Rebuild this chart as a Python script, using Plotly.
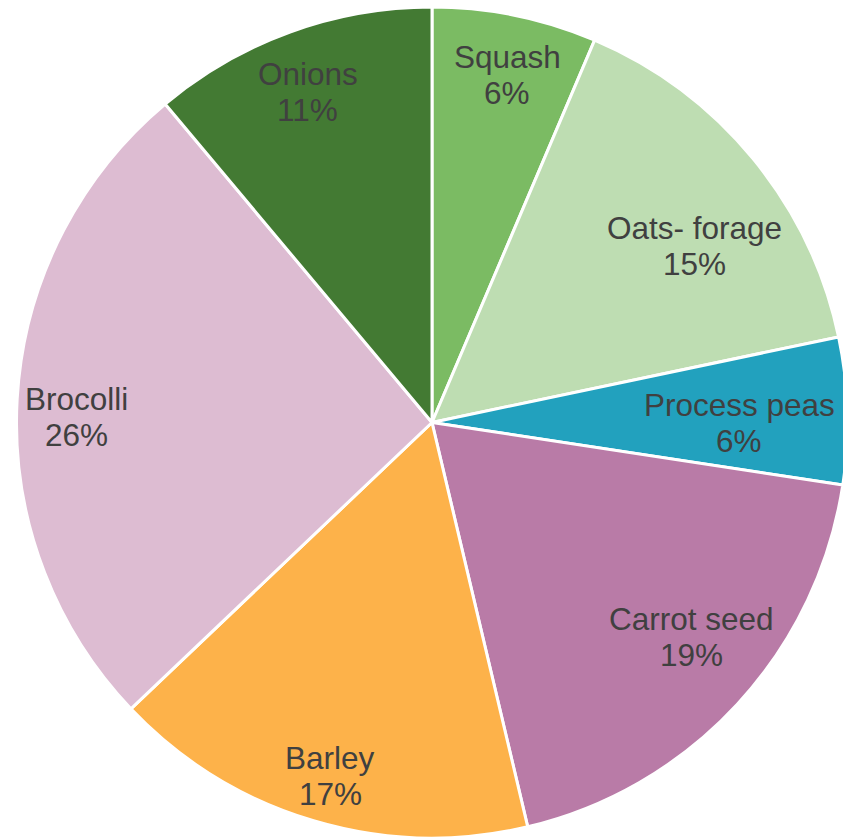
import math
import plotly.graph_objects as go

labels = ["Squash", "Oats- forage", "Process peas", "Carrot seed", "Barley", "Brocolli", "Onions"]
values = [6.4, 15.3, 5.7, 18.9, 16.6, 26.0, 11.1]
colors = ["#7BBB63", "#BEDDB2", "#22A1BE", "#B97BA7", "#FDB24A", "#DDBCD2", "#437A33"]

# label placement style (fraction of radius, angular nudge in degrees)
label_rfrac = [0.855, 0.76, 0.74, 0.81, 0.885, 0.855, 0.85]
label_nudge = [0.7, 5.5, 1.8, -3.0, -0.5, -2.4, -0.6]
line_gap = 36  # px between label line and percent line

W, H = 848, 839
dom_x = (16, 848)   # pixel extents of pie domain
dom_y = (7, 838)

fig = go.Figure(go.Pie(
    labels=labels,
    values=values,
    sort=False,
    direction="clockwise",
    rotation=0,
    marker=dict(colors=colors, line=dict(color="white", width=3)),
    textinfo="none",
    hoverinfo="label+percent",
    showlegend=False,
    domain=dict(x=[dom_x[0] / W, dom_x[1] / W], y=[1 - dom_y[1] / H, 1 - dom_y[0] / H]),
))

cx = (dom_x[0] + dom_x[1]) / 2
cy = (dom_y[0] + dom_y[1]) / 2
R = min(dom_x[1] - dom_x[0], dom_y[1] - dom_y[0]) / 2
total = sum(values)
font = dict(family="Liberation Sans, Arial, sans-serif", size=31.5, color="#404040")
cum = 0.0
for lab, v, rf, nd in zip(labels, values, label_rfrac, label_nudge):
    mid = (cum + v / 2) / total * 360 + nd
    cum += v
    a = math.radians(mid)
    px = cx + rf * R * math.sin(a)
    py = cy - rf * R * math.cos(a)
    pct = round(v / total * 100)
    for txt, dy in ((lab, -line_gap / 2), (f"{pct}%", line_gap / 2)):
        fig.add_annotation(
            x=px / W, y=1 - (py + dy) / H, xref="paper", yref="paper",
            text=txt, showarrow=False,
            xanchor="center", yanchor="middle", align="center",
            font=font,
        )

fig.update_layout(
    width=W, height=H,
    margin=dict(l=0, r=0, t=0, b=0),
    paper_bgcolor="white",
)

fig.write_html(
    "out.html",
    config={"displayModeBar": False},
    post_script="document.body.style.margin='0';document.body.style.overflow='hidden';document.documentElement.style.overflow='hidden';",
)
